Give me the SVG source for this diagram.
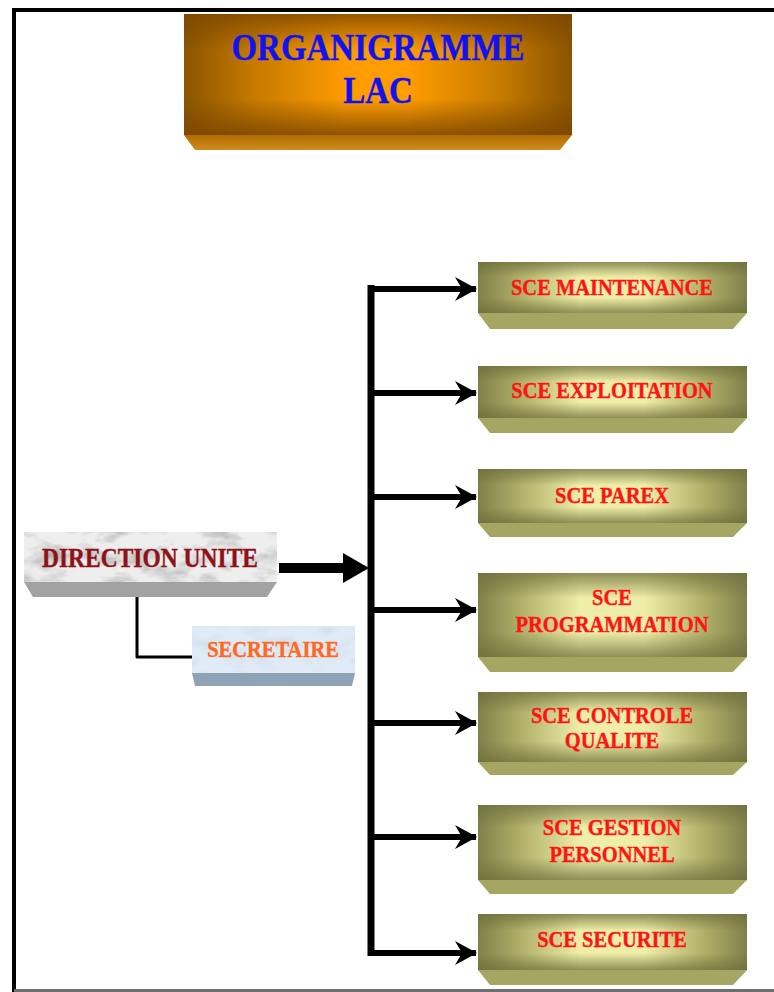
<svg xmlns="http://www.w3.org/2000/svg" width="774" height="992" viewBox="0 0 774 992">
  <style>
    .lbl { font-family: "Liberation Serif", "Times New Roman", serif; font-weight: bold; text-anchor: middle; stroke-width: 0.35; }
    .sce { font-size: 20.5px; fill: #FF1414; stroke: #FF1414; }
    .olive-bevel { fill: #A6A663; }
    .branch { fill: none; stroke: #000; stroke-width: 6; }
  </style>
  <defs>
    <!-- olive service boxes: bright core fading to darker edges -->
    <linearGradient id="oliveH" x1="0" y1="0" x2="1" y2="0">
      <stop offset="0" stop-color="#80804A"/>
      <stop offset="0.16" stop-color="#B0B06A"/>
      <stop offset="0.38" stop-color="#EEEEA8"/>
      <stop offset="0.62" stop-color="#EEEEA8"/>
      <stop offset="0.84" stop-color="#B0B06A"/>
      <stop offset="1" stop-color="#80804A"/>
    </linearGradient>
    <linearGradient id="oliveV" x1="0" y1="0" x2="0" y2="1">
      <stop offset="0" stop-color="#6E6E3C" stop-opacity="0.75"/>
      <stop offset="0.3" stop-color="#6E6E3C" stop-opacity="0"/>
      <stop offset="0.7" stop-color="#6E6E3C" stop-opacity="0"/>
      <stop offset="1" stop-color="#6E6E3C" stop-opacity="0.75"/>
    </linearGradient>
    <!-- title box: orange core, brown rim -->
    <linearGradient id="titleH" x1="0" y1="0" x2="1" y2="0">
      <stop offset="0" stop-color="#8A5400"/>
      <stop offset="0.18" stop-color="#C67A00"/>
      <stop offset="0.42" stop-color="#FF9C00"/>
      <stop offset="0.58" stop-color="#FF9C00"/>
      <stop offset="0.82" stop-color="#C67A00"/>
      <stop offset="1" stop-color="#8A5400"/>
    </linearGradient>
    <linearGradient id="titleV" x1="0" y1="0" x2="0" y2="1">
      <stop offset="0" stop-color="#7A4600" stop-opacity="0.8"/>
      <stop offset="0.3" stop-color="#7A4600" stop-opacity="0"/>
      <stop offset="0.7" stop-color="#7A4600" stop-opacity="0"/>
      <stop offset="1" stop-color="#7A4600" stop-opacity="0.85"/>
    </linearGradient>
    <linearGradient id="titleBevel" x1="0" y1="0" x2="0" y2="1">
      <stop offset="0" stop-color="#B06C00"/>
      <stop offset="1" stop-color="#D08C1C"/>
    </linearGradient>
    <!-- marble veining -->
    <filter id="marble" x="0" y="0" width="100%" height="100%">
      <feTurbulence type="fractalNoise" baseFrequency="0.03 0.06" numOctaves="4" seed="7" result="n"/>
      <feColorMatrix in="n" type="matrix" values="0 0 0 0 0.45  0 0 0 0 0.45  0 0 0 0 0.47  -2.6 0 0 0 1.45" result="v"/>
      <feComposite in="v" in2="SourceGraphic" operator="in" result="veins"/>
      <feMerge><feMergeNode in="SourceGraphic"/><feMergeNode in="veins"/></feMerge>
    </filter>
    <filter id="marbleBlue" x="0" y="0" width="100%" height="100%">
      <feTurbulence type="fractalNoise" baseFrequency="0.04 0.08" numOctaves="4" seed="2" result="n"/>
      <feColorMatrix in="n" type="matrix" values="0 0 0 0 0.62  0 0 0 0 0.7  0 0 0 0 0.82  -1.8 0 0 0 1.0" result="v"/>
      <feComposite in="v" in2="SourceGraphic" operator="in" result="veins"/>
      <feMerge><feMergeNode in="SourceGraphic"/><feMergeNode in="veins"/></feMerge>
    </filter>
    <marker id="head" markerUnits="userSpaceOnUse" markerWidth="24" markerHeight="26" viewBox="-22 -13 24 26" refX="0" refY="0" orient="auto">
      <path d="M1,0 L-21,-12 L-14,0 L-21,12 Z" fill="#000"/>
    </marker>
  </defs>

  <rect width="774" height="992" fill="#fff"/>

  <!-- page frame -->
  <g id="frame">
    <rect x="12" y="8" width="762" height="4" fill="#000"/>
    <rect x="12" y="8" width="4" height="984" fill="#000"/>
    <rect x="14" y="989" width="760" height="3" fill="#6E6E6E"/>
  </g>

  <!-- title -->
  <g id="title">
    <polygon points="184,135 572,135 560,150 195,150" fill="url(#titleBevel)"/>
    <rect x="184" y="14" width="388" height="121" fill="url(#titleH)"/>
    <rect x="184" y="14" width="388" height="121" fill="url(#titleV)"/>
    <text class="lbl" transform="translate(378,60) scale(1,1.18)" font-size="33" fill="#1212EE" stroke="#1212EE">ORGANIGRAMME</text>
    <text class="lbl" transform="translate(378,103) scale(1,1.18)" font-size="33" fill="#1212EE" stroke="#1212EE">LAC</text>
  </g>

  <!-- connectors -->
  <g id="connectors">
    <path d="M137,588 V657 H192" fill="none" stroke="#000" stroke-width="3" stroke-linejoin="round"/>
    <rect x="279" y="563" width="66" height="10" fill="#000"/>
    <polygon points="343,553 369,568 343,583" fill="#000"/>
    <line x1="371" y1="285" x2="371" y2="956" stroke="#000" stroke-width="7"/>
    <path class="branch" d="M368,289 H476" marker-end="url(#head)"/>
    <path class="branch" d="M371,393 H476" marker-end="url(#head)"/>
    <path class="branch" d="M371,497 H476" marker-end="url(#head)"/>
    <path class="branch" d="M371,610 H476" marker-end="url(#head)"/>
    <path class="branch" d="M371,723 H476" marker-end="url(#head)"/>
    <path class="branch" d="M371,837 H476" marker-end="url(#head)"/>
    <path class="branch" d="M368,953 H476" marker-end="url(#head)"/>
  </g>

  <!-- direction -->
  <g id="direction">
    <polygon points="24,582 277,582 267,597 33,597" fill="#A2A2A2"/>
    <rect x="24" y="532" width="253" height="50" fill="#EEEEEE" filter="url(#marble)"/>
    <text class="lbl" transform="translate(150,567) scale(1,1.12)" font-size="23.5" fill="#8E1218" stroke="#8E1218">DIRECTION UNITE</text>
  </g>

  <g id="secretaire">
    <polygon points="192,673 355,673 352,686 195,686" fill="#8EA4B6"/>
    <rect x="192" y="626" width="163" height="47" fill="#E0EBF7" filter="url(#marbleBlue)"/>
    <text class="lbl" transform="translate(273,657) scale(1,1.12)" font-size="20.5" fill="#FF6A1E" stroke="#FF6A1E">SECRETAIRE</text>
  </g>

  <!-- services -->
  <g id="sce-maintenance">
    <polygon class="olive-bevel" points="478,313 747,313 733,329 490,329"/>
    <rect x="478" y="262" width="269" height="51" fill="url(#oliveH)"/>
    <rect x="478" y="262" width="269" height="51" fill="url(#oliveV)"/>
    <text class="lbl sce" transform="translate(612,295) scale(1,1.15)">SCE MAINTENANCE</text>
  </g>

  <g id="sce-exploitation">
    <polygon class="olive-bevel" points="478,418 747,418 733,433 490,433"/>
    <rect x="478" y="366" width="269" height="52" fill="url(#oliveH)"/>
    <rect x="478" y="366" width="269" height="52" fill="url(#oliveV)"/>
    <text class="lbl sce" transform="translate(612,398) scale(1,1.15)">SCE EXPLOITATION</text>
  </g>

  <g id="sce-parex">
    <polygon class="olive-bevel" points="478,523 747,523 733,537 490,537"/>
    <rect x="478" y="469" width="269" height="54" fill="url(#oliveH)"/>
    <rect x="478" y="469" width="269" height="54" fill="url(#oliveV)"/>
    <text class="lbl sce" transform="translate(612,503) scale(1,1.15)">SCE PAREX</text>
  </g>

  <g id="sce-programmation">
    <polygon class="olive-bevel" points="478,657 747,657 733,672 490,672"/>
    <rect x="478" y="573" width="269" height="84" fill="url(#oliveH)"/>
    <rect x="478" y="573" width="269" height="84" fill="url(#oliveV)"/>
    <text class="lbl sce" transform="translate(612,605) scale(1,1.15)">SCE</text>
    <text class="lbl sce" transform="translate(612,632) scale(1,1.15)">PROGRAMMATION</text>
  </g>

  <g id="sce-controle-qualite">
    <polygon class="olive-bevel" points="478,762 747,762 733,775 490,775"/>
    <rect x="478" y="692" width="269" height="70" fill="url(#oliveH)"/>
    <rect x="478" y="692" width="269" height="70" fill="url(#oliveV)"/>
    <text class="lbl sce" transform="translate(612,723) scale(1,1.15)">SCE CONTROLE</text>
    <text class="lbl sce" transform="translate(612,748) scale(1,1.15)">QUALITE</text>
  </g>

  <g id="sce-gestion-personnel">
    <polygon class="olive-bevel" points="478,880 747,880 733,894 490,894"/>
    <rect x="478" y="805" width="269" height="75" fill="url(#oliveH)"/>
    <rect x="478" y="805" width="269" height="75" fill="url(#oliveV)"/>
    <text class="lbl sce" transform="translate(612,835) scale(1,1.15)">SCE GESTION</text>
    <text class="lbl sce" transform="translate(612,862) scale(1,1.15)">PERSONNEL</text>
  </g>

  <g id="sce-securite">
    <polygon class="olive-bevel" points="478,970 747,970 733,985 490,985"/>
    <rect x="478" y="914" width="269" height="56" fill="url(#oliveH)"/>
    <rect x="478" y="914" width="269" height="56" fill="url(#oliveV)"/>
    <text class="lbl sce" transform="translate(612,947) scale(1,1.15)">SCE SECURITE</text>
  </g>
</svg>
